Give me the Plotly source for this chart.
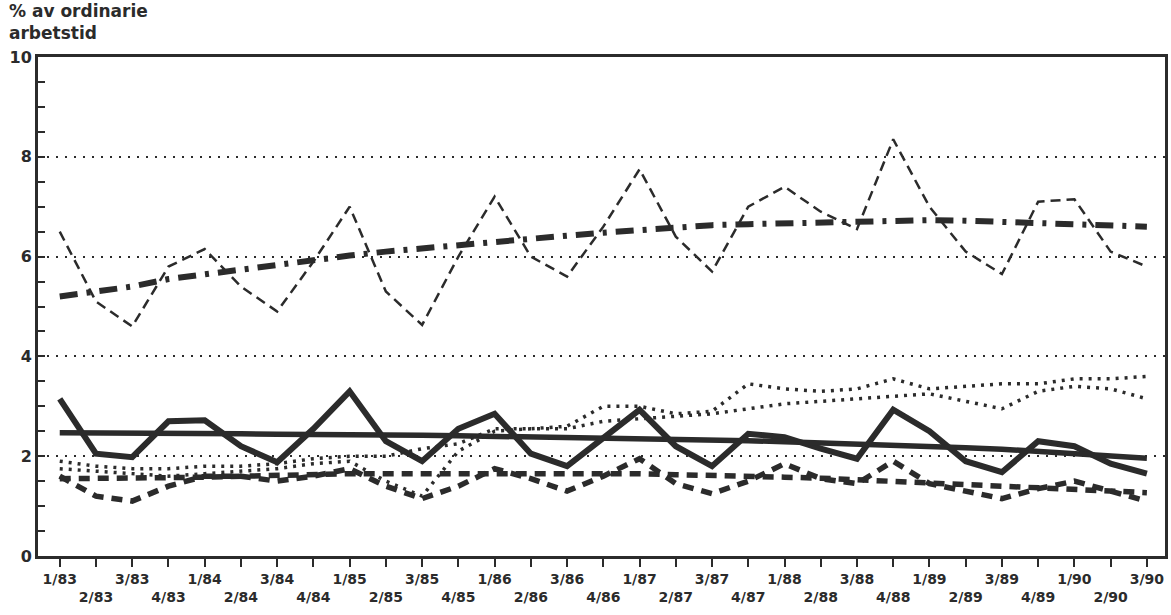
import plotly.graph_objects as go

# quarters 1/83 .. 3/90
QUARTERS = [f"{q}/{y}" for y in range(83, 91) for q in range(1, 5)][:31]

# top pair: seasonal (thin dashed) and trend (dash-dot)
abs_total = [6.5, 5.1, 4.6, 5.8, 6.15, 5.4, 4.9, 5.9, 7.0, 5.3, 4.63, 6.0, 7.2, 6.0, 5.6,
             6.6, 7.75, 6.4, 5.7, 7.0, 7.4, 6.9, 6.55, 8.35, 7.0, 6.1, 5.65, 7.1, 7.15, 6.1, 5.8]
abs_total_trend = [5.2, 5.3, 5.4, 5.55, 5.65, 5.75, 5.85, 5.95, 6.02, 6.1, 6.17, 6.23, 6.3, 6.37, 6.42,
                   6.48, 6.53, 6.6, 6.63, 6.65, 6.67, 6.68, 6.7, 6.72, 6.73, 6.72, 6.7, 6.68, 6.65, 6.62, 6.6]

# thick solid pair
abs_b = [3.15, 2.05, 1.98, 2.7, 2.72, 2.2, 1.88, 2.55, 3.3, 2.3, 1.9, 2.55, 2.85, 2.05, 1.8,
         2.35, 2.93, 2.2, 1.8, 2.45, 2.38, 2.15, 1.95, 2.93, 2.5, 1.9, 1.68, 2.3, 2.2, 1.85, 1.65]
abs_b_trend = [2.47, 2.47, 2.46, 2.46, 2.45, 2.45, 2.44, 2.44, 2.43, 2.42, 2.42, 2.41, 2.40, 2.39, 2.38,
               2.37, 2.36, 2.34, 2.33, 2.31, 2.29, 2.27, 2.25, 2.22, 2.20, 2.17, 2.14, 2.10, 2.06, 2.01, 1.96]

# dotted pair
abs_c = [1.9, 1.8, 1.75, 1.75, 1.8, 1.8, 1.85, 1.95, 2.0, 2.0, 2.15, 2.25, 2.55, 2.55, 2.6,
         3.0, 3.0, 2.85, 2.9, 3.45, 3.35, 3.3, 3.35, 3.55, 3.35, 3.4, 3.45, 3.45, 3.55, 3.55, 3.6]
abs_c_2 = [1.75, 1.7, 1.65, 1.6, 1.65, 1.7, 1.75, 1.85, 1.9, 1.5, 1.2, 2.1, 2.5, 2.55, 2.55,
           2.7, 2.75, 2.8, 2.85, 2.95, 3.05, 3.1, 3.15, 3.2, 3.25, 3.1, 2.95, 3.3, 3.4, 3.35, 3.15]

# thick dashed pair
abs_d = [1.6, 1.2, 1.1, 1.4, 1.6, 1.6, 1.5, 1.6, 1.75, 1.4, 1.15, 1.4, 1.75, 1.55, 1.3,
         1.6, 1.95, 1.45, 1.25, 1.5, 1.85, 1.55, 1.45, 1.9, 1.45, 1.3, 1.15, 1.35, 1.5, 1.3, 1.1]
abs_d_trend = [1.55, 1.55, 1.56, 1.57, 1.58, 1.6, 1.62, 1.63, 1.65, 1.65, 1.65, 1.66, 1.67, 1.67, 1.66,
               1.66, 1.65, 1.63, 1.62, 1.6, 1.58, 1.56, 1.53, 1.5, 1.46, 1.43, 1.4, 1.37, 1.34, 1.3, 1.27]

INK = "#2b2b2b"
FONT = "DejaVu Sans"

x = list(range(len(QUARTERS)))
ticktext = [q + "<br> " if i % 2 == 0 else " <br>" + q for i, q in enumerate(QUARTERS)]

styles = [
    (abs_total, dict(width=2.5, dash="10px,6px")),
    (abs_total_trend, dict(width=6, dash="18px,9px,4px,9px")),
    (abs_b, dict(width=6)),
    (abs_b_trend, dict(width=5.5)),
    (abs_c, dict(width=3.5, dash="3px,6px")),
    (abs_c_2, dict(width=3.5, dash="3px,6px")),
    (abs_d, dict(width=5.5, dash="11px,8px")),
    (abs_d_trend, dict(width=5.5, dash="11px,8px")),
]

fig = go.Figure()
for ys, ln in styles:
    fig.add_trace(go.Scatter(x=x, y=ys, mode="lines",
                             line=dict(color=INK, **ln), showlegend=False))

fig.update_layout(
    width=1171, height=615,
    margin=dict(l=38, r=6, t=57, b=59, autoexpand=False),
    paper_bgcolor="white", plot_bgcolor="white",
    font=dict(family=FONT, color=INK),
)
fig.update_xaxes(
    range=[-0.6, 30.5], tickmode="array", tickvals=x, ticktext=ticktext,
    tickangle=0,
    ticks="outside", ticklen=8, tickwidth=2, tickcolor=INK,
    tickfont=dict(size=14, weight="bold", family=FONT),
    showline=True, linewidth=3, linecolor=INK, mirror=True,
    showgrid=False, zeroline=False, automargin=False,
)
fig.update_yaxes(
    range=[0, 10], tickmode="array", tickvals=[0, 2, 4, 6, 8, 10],
    ticks="inside", ticklen=7, tickwidth=2, tickcolor=INK,
    minor=dict(tickmode="linear", tick0=0, dtick=0.5, ticks="inside",
               ticklen=7, tickwidth=2, tickcolor=INK, showgrid=False),
    tickfont=dict(size=16, weight="bold", family=FONT),
    showline=True, linewidth=3, linecolor=INK, mirror=True,
    showgrid=True, gridcolor=INK, griddash="2px,7px", gridwidth=1.5,
    zeroline=False, automargin=False,
)
fig.add_annotation(
    text="% av ordinarie<br>arbetstid", xref="paper", yref="paper",
    x=0, y=1, xshift=-31, yshift=12, xanchor="left", yanchor="bottom",
    align="left", showarrow=False,
    font=dict(size=17, weight="bold", family=FONT, color=INK),
)

# the page body has a default margin; drop it so the figure fills the window
fig.write_html("out.html", config={"displayModeBar": False},
               post_script="document.body.style.margin='0';document.body.style.overflow='hidden';")
